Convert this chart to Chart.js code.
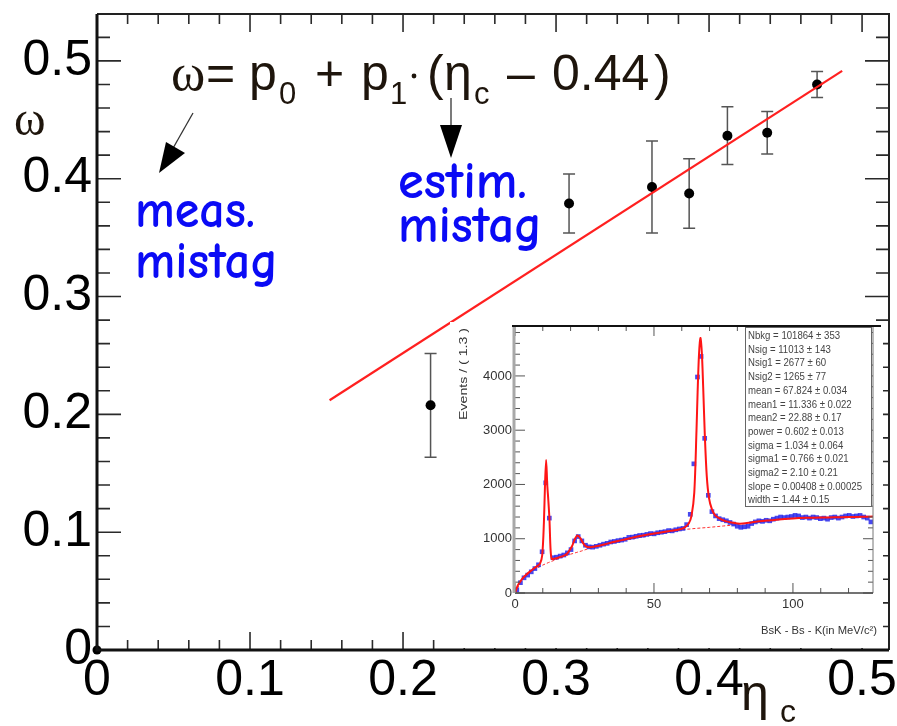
<!DOCTYPE html>
<html><head><meta charset="utf-8">
<script src="https://cdn.jsdelivr.net/npm/chart.js@4.4.1/dist/chart.umd.min.js"></script>
<style>
html,body{margin:0;padding:0;background:#fff;}
#wrap{position:relative;width:897px;height:726px;overflow:hidden;}
#main{position:absolute;left:0;top:0;width:897px;height:726px;}
#inset{position:absolute;left:450px;top:322px;width:433px;height:326px;background:#fff;filter:blur(0.4px);}
</style></head><body>
<div id="wrap"><canvas id="main" width="897" height="726"></canvas><canvas id="inset" width="433" height="326"></canvas></div>
<script>
// ---- main plot data ----
const etaC     = [0.218, 0.3085, 0.3627, 0.387, 0.412, 0.438, 0.4706];
const omega    = [0.2077, 0.379, 0.393, 0.3875, 0.4365, 0.439, 0.480];
const omegaErr = [0.044, 0.025, 0.039, 0.0295, 0.0245, 0.018, 0.011];
const originX  = [0];
const originY  = [0];
const fitX     = [0.152, 0.487];
const fitY     = [0.212, 0.4915];
const xTicks   = [0, 0.1, 0.2, 0.3, 0.4, 0.5];
const yTicks   = [0, 0.1, 0.2, 0.3, 0.4, 0.5];

// ---- inset data ----
const binX = [0.65,1.95,3.25,4.55,5.85,7.15,8.45,9.75,11.05,12.35,
13.65,14.95,16.25,17.55,18.85,20.15,21.45,22.75,24.05,25.35,
26.65,27.95,29.25,30.55,31.85,33.15,34.45,35.75,37.05,38.35,
39.65,40.95,42.25,43.55,44.85,46.15,47.45,48.75,50.05,51.35,
52.65,53.95,55.25,56.55,57.85,59.15,60.45,61.75,63.05,64.35,
65.65,66.95,68.25,69.55,70.85,72.15,73.45,74.75,76.05,77.35,
78.65,79.95,81.25,82.55,83.85,85.15,86.45,87.75,89.05,90.35,
91.65,92.95,94.25,95.55,96.85,98.15,99.45,100.75,102.05,103.35,
104.65,105.95,107.25,108.55,109.85,111.15,112.45,113.75,115.05,116.35,
117.65,118.95,120.25,121.55,122.85,124.15,125.45,126.75,128.05];
const binCounts = [60,190,280,330,390,450,520,760,2030,1380,
650,660,680,700,740,800,960,1040,960,880,
850,845,860,880,900,915,940,950,965,975,
990,1025,1030,1045,1060,1065,1080,1095,1090,1110,
1120,1130,1150,1145,1165,1180,1190,1260,1450,2380,
3980,4360,2850,1800,1500,1420,1370,1350,1330,1300,
1270,1230,1210,1220,1230,1280,1310,1330,1320,1340,
1330,1360,1380,1400,1390,1400,1410,1430,1420,1390,
1400,1380,1400,1390,1370,1380,1360,1390,1400,1380,
1400,1420,1430,1410,1420,1430,1400,1380,1310];
const fitMassX = [0,1,2,3,4,5,6,7,8,9,9.8,10.4,10.8,11.2,11.6,12,12.4,12.8,13.2,14,16,18,19,20.5,21.5,22.5,23.5,24.5,25.5,27,29,32,35,38,41,44,47,50,53,56,59,61,62.5,63.5,64.5,65.3,65.7,66.2,66.7,67.2,67.7,68.3,69,69.8,70.8,72,74,76,78,80,82,85,88,92,96,100,105,110,115,120,125,128.8];
const fitMassY = [0,140,220,285,335,380,420,460,495,540,700,1300,2000,2450,2000,1700,1350,800,630,630,660,700,740,860,990,1060,1010,920,860,845,860,895,935,970,1005,1040,1070,1095,1120,1145,1170,1205,1280,1420,1850,3000,3700,4400,4700,4450,3800,2900,2150,1750,1550,1430,1360,1320,1300,1280,1280,1300,1320,1340,1360,1375,1385,1390,1395,1400,1405,1408];
const bkgMassX = [0,2,4,6,8,10,12,14,16,18,20,22,24,26,28,32,36,40,45,50,55,60,65,70,75,80];
const bkgMassY = [0,200,320,400,460,515,560,600,640,680,715,745,775,810,840,890,935,975,1025,1075,1120,1165,1190,1210,1235,1260];
const insetXTicks = [0, 50, 100];
const insetYTicks = [0, 1000, 2000, 3000, 4000];
const statsLines = [
 'Nbkg = 101864 \u00b1 353','Nsig = 11013 \u00b1 143','Nsig1 = 2677 \u00b1 60','Nsig2 = 1265 \u00b1 77',
 'mean = 67.824 \u00b1 0.034','mean1 = 11.336 \u00b1 0.022','mean2 = 22.88 \u00b1 0.17','power = 0.602 \u00b1 0.013',
 'sigma = 1.034 \u00b1 0.064','sigma1 = 0.766 \u00b1 0.021','sigma2 = 2.10 \u00b1 0.21','slope = 0.00408 \u00b1 0.00025',
 'width = 1.44 \u00b1 0.15'];

const pts = (xs, ys) => xs.map((v, i) => ({x: v, y: ys[i]}));
const fmt = v => (Math.abs(v) < 1e-9 ? '0' : v.toFixed(1));
const SANS = '"Liberation Sans", Arial, sans-serif';
const NARROW = '"Liberation Sans Narrow", "Liberation Sans", Arial, sans-serif';
const noPadX = s => { s.paddingLeft = 0; s.paddingRight = 0; };
const noPadY = s => { s.paddingTop = 0; s.paddingBottom = 0; };

function fitText(ctx, text, x, y, width) {
  const w = ctx.measureText(text).width;
  ctx.save(); ctx.translate(x, y); ctx.scale(width / w, 1); ctx.fillText(text, 0, 0); ctx.restore();
}

const mainDecor = {
  id: 'mainDecor',
  beforeDatasetsDraw(chart) {
    const {ctx, scales: {x, y}} = chart;
    ctx.save();
    ctx.strokeStyle = '#555'; ctx.lineWidth = 1.5;
    etaC.forEach((xv, i) => {
      const px = x.getPixelForValue(xv);
      const t = y.getPixelForValue(omega[i] + omegaErr[i]);
      const b = y.getPixelForValue(omega[i] - omegaErr[i]);
      ctx.beginPath();
      ctx.moveTo(px, t); ctx.lineTo(px, b);
      ctx.moveTo(px - 6, t); ctx.lineTo(px + 6, t);
      ctx.moveTo(px - 6, b); ctx.lineTo(px + 6, b);
      ctx.stroke();
    });
    ctx.restore();
  },
  afterDraw(chart) {
    const {ctx, chartArea: a, scales: {x, y}} = chart;
    ctx.save();
    // ticks
    ctx.strokeStyle = '#2a2a2a'; ctx.lineWidth = 1.6;
    ctx.beginPath();
    for (let i = 0; i <= 27; i++) {
      const v = i * 0.02;
      if (v > y.max + 1e-9) break;
      const py = y.getPixelForValue(v), len = (i % 5 === 0) ? 24 : 13;
      ctx.moveTo(a.left, py); ctx.lineTo(a.left + len, py);
      ctx.moveTo(a.right, py); ctx.lineTo(a.right - len, py);
    }
    for (let i = 0; i <= 26; i++) {
      const v = i * 0.02;
      if (v > x.max + 1e-9) break;
      const px = x.getPixelForValue(v), len = (i % 5 === 0) ? 18 : 10;
      ctx.moveTo(px, a.bottom); ctx.lineTo(px, a.bottom - len);
      ctx.moveTo(px, a.top); ctx.lineTo(px, a.top + len);
    }
    ctx.stroke();
    // frame
    ctx.strokeStyle = '#222'; ctx.lineWidth = 2;
    ctx.beginPath(); ctx.moveTo(a.left, a.top); ctx.lineTo(a.right, a.top); ctx.lineTo(a.right, a.bottom); ctx.stroke();
    ctx.strokeStyle = '#111'; ctx.lineWidth = 3;
    ctx.beginPath(); ctx.moveTo(a.left, a.top); ctx.lineTo(a.left, a.bottom); ctx.lineTo(a.right, a.bottom); ctx.stroke();

    // formula
    const ink = '#1e150c';
    ctx.fillStyle = ink; ctx.textBaseline = 'alphabetic'; ctx.textAlign = 'left';
    const big = '50px ' + SANS, sub = '31px ' + SANS;
    ctx.font = '52px "Liberation Serif", serif'; ctx.fillText('\u03c9', 171, 90);
    ctx.font = big;
    ctx.fillText('=', 206, 90);
    ctx.fillText('p', 249, 90);
    ctx.font = sub; ctx.fillText('0', 279, 104);
    ctx.font = big; ctx.fillText('+', 315, 90);
    ctx.fillText('p', 361, 90);
    ctx.font = sub; ctx.fillText('1', 390, 104);
    ctx.beginPath(); ctx.arc(414, 76, 2.4, 0, Math.PI * 2); ctx.fill();
    ctx.font = big; ctx.fillText('(', 427, 90);
    ctx.fillText('\u03b7', 444, 90);
    ctx.font = sub; ctx.fillText('c', 474, 104);
    ctx.font = big; ctx.fillText('\u2013', 507, 90);
    ctx.fillText('0.44', 552, 90);
    ctx.fillText(')', 654, 90);

    // axis titles
    ctx.font = '48px "Liberation Serif", serif'; ctx.fillText('\u03c9', 14, 135);
    ctx.font = '50px ' + SANS; ctx.fillText('\u03b7', 741, 710);
    ctx.font = '32px ' + SANS; ctx.fillText('c', 780, 722);

    // arrows
    ctx.strokeStyle = '#333'; ctx.lineWidth = 1.3; ctx.fillStyle = '#000';
    ctx.beginPath(); ctx.moveTo(193, 113); ctx.lineTo(172, 150); ctx.stroke();
    ctx.beginPath(); ctx.moveTo(159, 173); ctx.lineTo(166, 142); ctx.lineTo(185, 153); ctx.closePath(); ctx.fill();
    ctx.beginPath(); ctx.moveTo(451, 98); ctx.lineTo(451, 128); ctx.stroke();
    ctx.beginPath(); ctx.moveTo(451, 158); ctx.lineTo(440, 125); ctx.lineTo(462, 125); ctx.closePath(); ctx.fill();

    // blue labels
    const blueFam = '"Comic Sans MS", "Comic Neue", Lato, sans-serif';
    ctx.font = 'bold 52px ' + blueFam;
    ctx.fillStyle = '#0a0af5';
    fitText(ctx, 'meas.', 135, 227, 120);
    fitText(ctx, 'mistag', 135, 278, 143);
    fitText(ctx, 'estim.', 398, 198, 129);
    fitText(ctx, 'mistag', 398, 242, 144);
    ctx.restore();
  }
};

new Chart(document.getElementById('main'), {
  type: 'scatter',
  data: {
    datasets: [
      {data: pts(fitX, fitY), showLine: true, borderColor: '#ff2020', borderWidth: 2.2, pointRadius: 0, fill: false},
      {data: pts(etaC, omega), pointRadius: 5, pointBackgroundColor: '#000', pointBorderWidth: 0, borderColor: '#000'},
      {data: pts(originX, originY), pointRadius: 4.5, pointBackgroundColor: '#000', pointBorderWidth: 0, clip: false}
    ]
  },
  options: {
    responsive: false, animation: false,
    layout: {padding: {left: 0, right: 8, top: 14, bottom: 0}},
    plugins: {legend: {display: false}, tooltip: {enabled: false}},
    scales: {
      x: {
        type: 'linear', min: 0, max: 0.5176,
        afterBuildTicks: s => { s.ticks = xTicks.map(v => ({value: v})); },
        afterFit: s => { s.height = 76; noPadX(s); },
        grid: {display: false, drawTicks: false}, border: {display: false},
        ticks: {font: {family: SANS, size: 50}, color: '#000', padding: 1, maxRotation: 0, autoSkip: false, callback: v => fmt(v)}
      },
      y: {
        type: 'linear', min: 0, max: 0.5398,
        afterBuildTicks: s => { s.ticks = yTicks.map(v => ({value: v})); },
        afterFit: s => { s.width = 97; noPadY(s); },
        grid: {display: false, drawTicks: false}, border: {display: false},
        ticks: {font: {family: SANS, size: 50}, color: '#000', padding: 5, autoSkip: false, callback: v => fmt(v)}
      }
    }
  },
  plugins: [mainDecor]
});

// ---- inset ----
const insetDecor = {
  id: 'insetDecor',
  afterDraw(chart) {
    const {ctx, chartArea: a, scales: {x, y}} = chart;
    ctx.save();
    ctx.strokeStyle = '#555'; ctx.lineWidth = 1;
    ctx.beginPath();
    for (let v = 0; v <= y.max; v += 200) {
      const py = y.getPixelForValue(v), len = (v % 1000 === 0) ? 10 : 5;
      ctx.moveTo(a.left, py); ctx.lineTo(a.left + len, py);
      ctx.moveTo(a.right, py); ctx.lineTo(a.right - len, py);
    }
    for (let v = 0; v <= x.max; v += 10) {
      const px = x.getPixelForValue(v), len = (v % 50 === 0) ? 10 : 5;
      ctx.moveTo(px, a.bottom); ctx.lineTo(px, a.bottom - len);
      ctx.moveTo(px, a.top); ctx.lineTo(px, a.top + len);
    }
    ctx.stroke();
    // frame
    ctx.strokeStyle = '#777'; ctx.lineWidth = 1;
    ctx.beginPath(); ctx.moveTo(a.right, a.top); ctx.lineTo(a.right, a.bottom); ctx.stroke();
    ctx.strokeStyle = '#444'; ctx.lineWidth = 1.6;
    ctx.beginPath(); ctx.moveTo(a.left, a.bottom); ctx.lineTo(a.right, a.bottom); ctx.stroke();
    ctx.strokeStyle = '#a8a8a8'; ctx.lineWidth = 3;
    ctx.beginPath(); ctx.moveTo(a.left - 1, a.top); ctx.lineTo(a.left - 1, a.bottom); ctx.stroke();
    ctx.strokeStyle = '#111'; ctx.lineWidth = 2.2;
    ctx.beginPath(); ctx.moveTo(a.left - 3, a.top); ctx.lineTo(a.right + 8, a.top); ctx.stroke();
    // stats box
    const bx = a.right - 128, by = a.top + 1;
    ctx.fillStyle = '#fff'; ctx.strokeStyle = '#666'; ctx.lineWidth = 1;
    ctx.fillRect(bx, by, 127, 180); ctx.strokeRect(bx + 0.5, by + 0.5, 126, 179);
    ctx.fillStyle = '#444'; ctx.font = '11px ' + SANS; ctx.textBaseline = 'middle'; ctx.textAlign = 'left';
    const maxW = Math.max(...statsLines.map(s => ctx.measureText(s).width));
    const k = 114 / maxW;
    statsLines.forEach((s, i) => {
      ctx.save(); ctx.translate(bx + 3, by + 9 + i * 13.7); ctx.scale(k, 1); ctx.fillText(s, 0, 0); ctx.restore();
    });
    // titles
    ctx.fillStyle = '#333'; ctx.font = '11px ' + SANS; ctx.textAlign = 'left'; ctx.textBaseline = 'alphabetic';
    fitText(ctx, 'BsK - Bs - K(in MeV/c\u00b2)', a.right - 112, 312, 116);
    ctx.translate(17, 98); ctx.rotate(-Math.PI / 2);
    ctx.font = '10.5px ' + SANS;
    fitText(ctx, 'Events / ( 1.3 )', 0, 0, 92);
    ctx.restore();
  }
};

new Chart(document.getElementById('inset'), {
  type: 'scatter',
  data: {
    datasets: [
      {data: pts(bkgMassX, bkgMassY), showLine: true, borderColor: '#ff3030', borderWidth: 1, borderDash: [3, 2], pointRadius: 0, fill: false, order: 3},
      {data: pts(binX, binCounts), pointRadius: 3.3, pointStyle: 'rect', pointBackgroundColor: 'rgba(40,40,235,0.85)', pointBorderWidth: 0, order: 2},
      {data: pts(fitMassX, fitMassY), showLine: true, borderColor: '#ff1515', borderWidth: 2, pointRadius: 0, fill: false, tension: 0.3, order: 1}
    ]
  },
  options: {
    responsive: false, animation: false,
    layout: {padding: {left: 0, right: 10, top: 4, bottom: 0}},
    plugins: {legend: {display: false}, tooltip: {enabled: false}},
    scales: {
      x: {
        type: 'linear', min: 0, max: 128.8,
        afterBuildTicks: s => { s.ticks = insetXTicks.map(v => ({value: v})); },
        afterFit: s => { s.height = 55; noPadX(s); },
        grid: {display: false, drawTicks: false}, border: {display: false},
        ticks: {font: {family: NARROW, size: 13}, color: '#333', padding: 4, maxRotation: 0, autoSkip: false}
      },
      y: {
        type: 'linear', min: 0, max: 4920,
        afterBuildTicks: s => { s.ticks = insetYTicks.map(v => ({value: v})); },
        afterFit: s => { s.width = 65; noPadY(s); },
        grid: {display: false, drawTicks: false}, border: {display: false},
        ticks: {font: {family: NARROW, size: 13}, color: '#333', padding: 3, autoSkip: false, callback: v => String(v)}
      }
    }
  },
  plugins: [insetDecor]
});
</script>
</body></html>
